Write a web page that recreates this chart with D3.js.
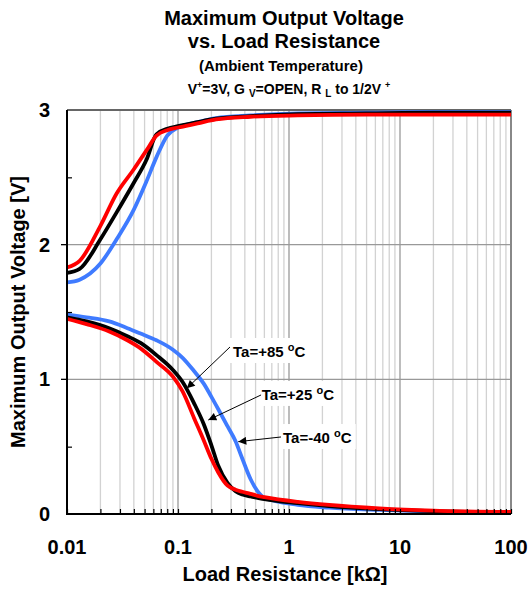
<!DOCTYPE html>
<html>
<head>
<meta charset="utf-8">
<script src="https://cdn.jsdelivr.net/npm/d3@7"></script>
<style>
  body { margin: 0; background: #fff; }
  text { font-family: Arial, "Liberation Sans", sans-serif; font-weight: bold; fill: #000; }
</style>
</head>
<body>
<script>
// load resistance [kOhm] for the high-side curves
const rHigh = [0.01, 0.013, 0.02, 0.028, 0.04, 0.052, 0.064, 0.08, 0.1, 0.15, 0.22, 0.45, 1.2, 5, 20, 100]
const highM40 = [1.72, 1.74, 1.86, 2.04, 2.26, 2.47, 2.65, 2.81, 2.87, 2.91, 2.94, 2.96, 2.975, 2.98, 2.985, 2.985]
const highP25 = [1.79, 1.82, 2.04, 2.24, 2.46, 2.63, 2.82, 2.86, 2.88, 2.91, 2.935, 2.955, 2.97, 2.975, 2.98, 2.98]
const highP85 = [1.83, 1.88, 2.14, 2.38, 2.56, 2.70, 2.81, 2.85, 2.87, 2.90, 2.93, 2.95, 2.96, 2.965, 2.965, 2.965]

// load resistance [kOhm] for the low-side curves
const rLow = [0.01, 0.015, 0.024, 0.035, 0.046, 0.064, 0.09, 0.11, 0.14, 0.17, 0.2, 0.23, 0.28, 0.33, 0.38, 0.45, 0.52, 0.6, 1.2, 2.3, 6.5, 20, 100]
const lowM40 = [1.48, 1.46, 1.43, 1.38, 1.34, 1.29, 1.22, 1.16, 1.06, 0.97, 0.87, 0.78, 0.65, 0.54, 0.41, 0.26, 0.17, 0.12, 0.068, 0.047, 0.03, 0.018, 0.01]
const lowP25 = [1.46, 1.43, 1.38, 1.32, 1.27, 1.18, 1.07, 0.98, 0.82, 0.67, 0.51, 0.36, 0.23, 0.17, 0.145, 0.13, 0.12, 0.11, 0.08, 0.058, 0.036, 0.022, 0.012]
const lowP85 = [1.45, 1.41, 1.355, 1.29, 1.23, 1.13, 1.02, 0.91, 0.71, 0.55, 0.41, 0.31, 0.21, 0.18, 0.165, 0.15, 0.135, 0.125, 0.09, 0.067, 0.042, 0.025, 0.015]

const xTicks = [0.01, 0.1, 1, 10, 100]
const xTickLabels = ['0.01', '0.1', '1', '10', '100']
const yTicks = [0, 1, 2, 3]

// labels: text anchor, arrow tail and arrow tip in data units [R, V]
const labels = [
  {name: 'Ta=+85', at: [0.313, 1.166], tail: [0.294, 1.24], tip: [0.12, 0.933]},
  {name: 'Ta=+25', at: [0.567, 0.847], tail: [0.56, 0.884], tip: [0.1875, 0.698]},
  {name: 'Ta=-40', at: [0.883, 0.527], tail: [0.847, 0.572], tip: [0.349, 0.537]}
]

const W = 531, H = 589
const margin = {top: 110, left: 67, right: 20, bottom: 75}

const svg = d3.select('body').append('svg')
  .attr('width', W)
  .attr('height', H)

const x = d3.scaleLog().domain([0.01, 100]).range([margin.left, W - margin.right])
const y = d3.scaleLinear().domain([0, 3]).range([H - margin.bottom, margin.top])

// minor grid values
const minors = []
for (let e = -2; e < 2; e++) {
  for (let k = 2; k <= 9; k++) minors.push(k * Math.pow(10, e))
}

const grid = svg.append('g')
grid.selectAll('.minor')
  .data(minors)
  .enter()
  .append('line')
  .attr('x1', d => x(d)).attr('x2', d => x(d))
  .attr('y1', y(0)).attr('y2', y(3))
  .attr('stroke', '#d2d2d2')
  .attr('stroke-width', 1.3)

grid.selectAll('.major')
  .data(xTicks.slice(1, 4))
  .enter()
  .append('line')
  .attr('x1', d => x(d)).attr('x2', d => x(d))
  .attr('y1', y(0)).attr('y2', y(3))
  .attr('stroke', '#999')
  .attr('stroke-width', 1.3)

grid.selectAll('.hgrid')
  .data([1, 2])
  .enter()
  .append('line')
  .attr('x1', x(0.01)).attr('x2', x(100))
  .attr('y1', d => y(d)).attr('y2', d => y(d))
  .attr('stroke', '#999')
  .attr('stroke-width', 1.3)

// frame: top and right in grey
svg.append('line')
  .attr('x1', x(0.01)).attr('x2', x(100))
  .attr('y1', y(3)).attr('y2', y(3))
  .attr('stroke', '#666').attr('stroke-width', 2)
svg.append('line')
  .attr('x1', x(100)).attr('x2', x(100))
  .attr('y1', y(0)).attr('y2', y(3))
  .attr('stroke', '#888').attr('stroke-width', 2)

// white boxes behind labels
const boxes = svg.append('g')

// curves
svg.append('clipPath').attr('id', 'plot')
  .append('rect')
  .attr('x', x(0.01)).attr('y', y(3) - 3)
  .attr('width', x(100) - x(0.01)).attr('height', y(0) - y(3) + 3)

const line = d3.line()
  .x(d => x(d[0]))
  .y(d => y(d[1]))
  .curve(d3.curveMonotoneX)

const series = [
  {r: rHigh, v: highM40, color: '#3f7bff'},
  {r: rLow, v: lowM40, color: '#3f7bff'},
  {r: rHigh, v: highP25, color: '#000'},
  {r: rLow, v: lowP25, color: '#000'},
  {r: rHigh, v: highP85, color: '#ff0000'},
  {r: rLow, v: lowP85, color: '#ff0000'}
]

svg.append('g').attr('clip-path', 'url(#plot)')
  .selectAll('path')
  .data(series)
  .enter()
  .append('path')
  .attr('d', s => line(s.r.map((r, i) => [r, s.v[i]])))
  .attr('fill', 'none')
  .attr('stroke', s => s.color)
  .attr('stroke-width', 3.8)
  .attr('stroke-linejoin', 'round')

// axes (left and bottom black)
const xAxis = d3.axisBottom(x)
  .tickValues(xTicks.concat(minors))
  .tickSize(-5)
  .tickFormat('')
svg.append('g')
  .attr('transform', `translate(0, ${y(0)})`)
  .call(xAxis)
  .call(g => g.select('.domain').attr('stroke-width', 2).attr('d', `M${x(0.01) - 1},0H${x(100)}`))
  .call(g => g.selectAll('.tick line').attr('stroke-width', 1.2))

const yAxis = d3.axisLeft(y)
  .tickValues([0.5, 1.5, 2.5])
  .tickSize(-5)
  .tickFormat('')
svg.append('g')
  .attr('transform', `translate(${x(0.01)}, 0)`)
  .call(yAxis)
  .call(g => g.select('.domain').attr('stroke-width', 2).attr('d', `M0,${y(0) + 1}V${y(3)}`))
  .call(g => g.selectAll('.tick line').attr('stroke-width', 1.2))

svg.append('g').selectAll('line')
  .data([1, 2])
  .enter()
  .append('line')
  .attr('x1', x(0.01) - 6).attr('x2', x(0.01))
  .attr('y1', d => y(d)).attr('y2', d => y(d))
  .attr('stroke', '#000').attr('stroke-width', 1.3)

// tick labels
svg.append('g').selectAll('text')
  .data(xTicks)
  .enter()
  .append('text')
  .attr('x', d => x(d))
  .attr('y', 554)
  .attr('text-anchor', 'middle')
  .attr('font-size', 20)
  .text((d, i) => xTickLabels[i])

svg.append('g').selectAll('text')
  .data(yTicks)
  .enter()
  .append('text')
  .attr('x', 50)
  .attr('y', d => y(d) + 7)
  .attr('text-anchor', 'end')
  .attr('font-size', 20)
  .text(d => d)

// axis titles
svg.append('text')
  .attr('x', 285).attr('y', 581)
  .attr('text-anchor', 'middle')
  .attr('font-size', 20)
  .text('Load Resistance [kΩ]')

svg.append('text')
  .attr('transform', 'translate(25, 312) rotate(-90)')
  .attr('text-anchor', 'middle')
  .attr('font-size', 20)
  .text('Maximum Output Voltage [V]')

// title
svg.append('text').attr('x', 284).attr('y', 25)
  .attr('text-anchor', 'middle').attr('font-size', 20)
  .text('Maximum Output Voltage')
svg.append('text').attr('x', 284).attr('y', 48)
  .attr('text-anchor', 'middle').attr('font-size', 20)
  .text('vs. Load Resistance')
svg.append('text').attr('x', 281).attr('y', 71)
  .attr('text-anchor', 'middle').attr('font-size', 15)
  .text('(Ambient Temperature)')

const sub = svg.append('text').attr('x', 289).attr('y', 94)
  .attr('text-anchor', 'middle').attr('font-size', 14)
sub.append('tspan').text('V')
sub.append('tspan').attr('font-size', 9).attr('dy', -6).text('+')
sub.append('tspan').attr('dy', 6).text('=3V, G ')
sub.append('tspan').attr('font-size', 10).attr('dy', 3).text('V')
sub.append('tspan').attr('dy', -3).text('=OPEN, R ')
sub.append('tspan').attr('font-size', 10).attr('dy', 3).text('L')
sub.append('tspan').attr('dy', -3).text(' to 1/2V ')
sub.append('tspan').attr('font-size', 9).attr('dy', -6).text('+')

// arrow marker
svg.append('defs').append('marker')
  .attr('id', 'head')
  .attr('viewBox', '0 0 10 10')
  .attr('refX', 10).attr('refY', 5)
  .attr('markerWidth', 11).attr('markerHeight', 8)
  .attr('markerUnits', 'userSpaceOnUse')
  .attr('orient', 'auto')
  .append('path')
  .attr('d', 'M0,0L10,5L0,10Z')
  .attr('fill', '#000')

const ann = svg.append('g')
labels.forEach(l => {
  const t = ann.append('text')
    .attr('x', x(l.at[0]))
    .attr('y', y(l.at[1]))
    .attr('font-size', 15)
  t.append('tspan').text(l.name + ' ')
  t.append('tspan').attr('font-size', 11).attr('dy', -6).text('o')
  t.append('tspan').attr('dy', 6).text('C')
  const b = t.node().getBBox()
  boxes.append('rect')
    .attr('x', b.x - 4).attr('y', b.y - 3)
    .attr('width', b.width + 8).attr('height', b.height + 6)
    .attr('fill', '#fff')
  ann.append('line')
    .attr('x1', x(l.tail[0])).attr('y1', y(l.tail[1]))
    .attr('x2', x(l.tip[0])).attr('y2', y(l.tip[1]))
    .attr('stroke', '#000').attr('stroke-width', 1)
    .attr('marker-end', 'url(#head)')
})
</script>
</body>
</html>
